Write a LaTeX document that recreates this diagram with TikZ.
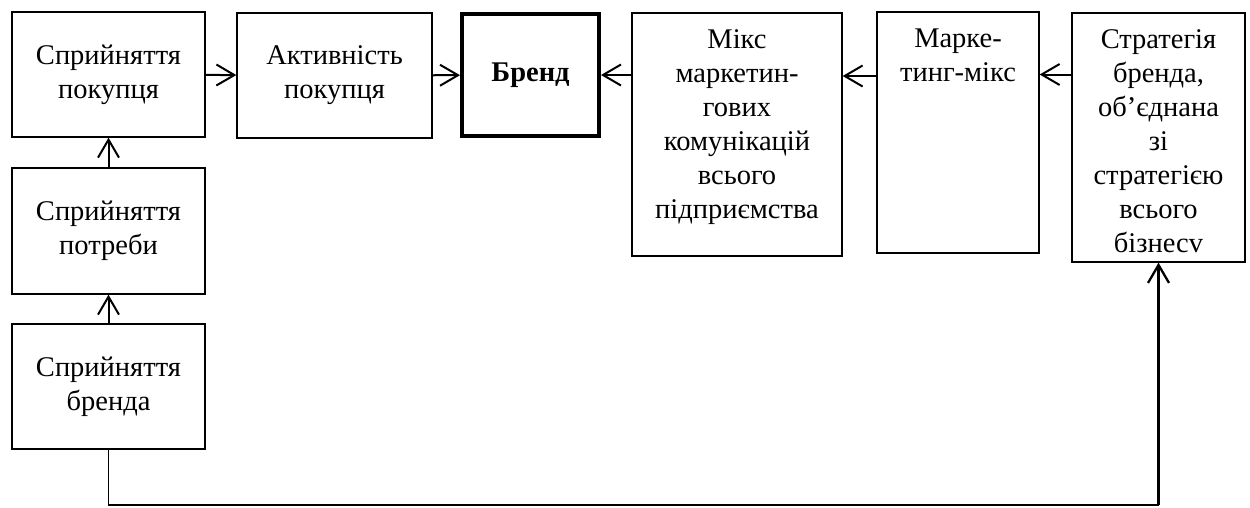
\documentclass[tikz,border=0pt]{standalone}
\usepackage{fontspec}
\setmainfont{Liberation Serif}
\usetikzlibrary{arrows.meta}
% fixed-size text block, text set from the top with a small gap
\newcommand\topblock[3]{\parbox[c][#2][t]{#1}{\centering\vspace*{17pt}#3}}
\begin{document}
\begin{tikzpicture}[x=1pt, y=-1pt,
  blk/.style={draw, line width=1.3pt, inner sep=0pt, align=center,
    font=\fontsize{28.5}{34}\selectfont},
  mainblk/.style={blk, line width=4pt, font=\fontsize{28.5}{34}\selectfont\bfseries},
  conn/.style={line width=2pt, -{Straight Barb[length=18pt, width=21pt]}},
  feed/.style={line width=1.3pt},
  feedup/.style={line width=2.3pt, -{Straight Barb[length=18pt, width=21pt]}}]
\useasboundingbox (0,0) rectangle (1250,507);

% left column
\node[blk, minimum width=193pt, minimum height=125pt] (buyer) at (108.5,74.5) {Сприйняття\\покупця};
\node[blk, minimum width=193pt, minimum height=126pt] (need) at (108.5,231) {Сприйняття\\потреби};
\node[blk, minimum width=193pt, minimum height=125pt] (brandp) at (108.5,386.5) {Сприйняття\\бренда};

% top row
\node[blk, minimum width=195pt, minimum height=125pt] (act) at (334.5,75.5) {Активність\\покупця};
\node[mainblk, minimum width=137pt, minimum height=122pt] (brand) at (530.5,75) {Бренд};
\node[blk] (mix) at (737,134.5) {\topblock{210pt}{243pt}{Мікс\\маркетин-\\гових\\комунікацій\\всього\\підприємства}};
\node[blk] (mm) at (958,132.5) {\topblock{162pt}{241pt}{Марке-\\тинг-мікс}};
\node[blk] (strat) at (1158.5,137.5) {\topblock{173pt}{249pt}{Стратегія\\бренда,\\об’єднана\\зі\\стратегією\\всього\\бізнесv}};

% flows
\draw[conn] (brandp) -- (need);
\draw[conn] (need) -- (buyer);
\draw[conn] (buyer) -- (act);
\draw[conn] (act) -- (brand);
\draw[conn] (mix.west |- brand.center) -- (brand.east);
\draw[conn] (mm.west |- 0,76) -- (mix.east |- 0,76);
\draw[conn] (strat.west |- buyer.center) -- (mm.east |- buyer.center);

% feedback loop along the bottom
\coordinate (turn) at (strat.south |- 0,505);
\draw[feed] (brandp.south) |- (turn);
\draw[feedup] (turn) -- (strat.south);
\end{tikzpicture}
\end{document}
